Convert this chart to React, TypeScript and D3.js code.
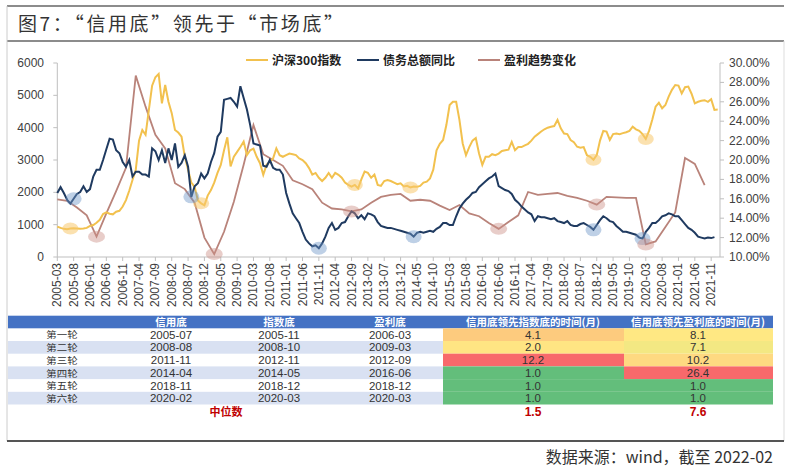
import React from "react";
import * as d3 from "d3";

// 月度序列，起点 2005-03
const startYear = 2005;
const startMon = 3;

// 沪深300指数（左轴），月度
const csi300 = [
  940, 900, 870, 860, 880, 890, 880, 870, 880, 900,
  960, 990, 1060, 1150, 1330, 1380, 1340, 1320, 1400, 1430,
  1560, 1760, 2050, 2380, 2700, 3600, 3930, 3780, 4540, 5300,
  5560, 5660, 4750, 5320, 4800, 4450, 3930, 3850, 3720, 3100,
  2700, 2300, 2170, 1750, 1660, 1600, 1900, 2070, 2300, 2600,
  2850, 3300, 3700, 2800, 3100, 3250, 3400, 3570, 3150, 3300,
  3350, 3100, 2900, 2540, 2850, 2950, 3050, 3360, 3150, 3100,
  3150, 3200, 3180, 3150, 3050, 3000, 2900, 2750, 2550, 2600,
  2450, 2350, 2450, 2600, 2450, 2600, 2540, 2450, 2300, 2230,
  2175, 2230, 2120, 2400, 2640, 2600, 2450, 2550, 2230, 2200,
  2350, 2380, 2350, 2300, 2250, 2280, 2180, 2200, 2150, 2180,
  2170, 2200, 2300, 2330, 2430, 2700, 3300, 3500, 3620, 4080,
  4700, 4800, 4800, 4240, 3510, 3150, 3400, 3600, 3680, 3200,
  2850, 3100, 3100, 3180, 3150, 3200, 3280, 3300, 3320, 3560,
  3300, 3400, 3400, 3450, 3500, 3600, 3720, 3800, 3880, 3950,
  4000, 4030, 4050, 4240, 3980, 3820, 3800, 3620, 3550, 3410,
  3380, 3400, 3150, 3100, 3010, 3150, 3600, 3900, 3880, 3620,
  3800, 3820, 3800, 3830, 3860, 3900, 4030, 3950, 3900, 3800,
  3650, 3900, 4250, 4650, 4770, 4600, 4700, 4960, 5170, 5320,
  5300, 5060, 5250, 5270, 5050, 4750, 4800, 4830, 4850, 4800,
  4880, 4550, 4560,
];

// 债务总额同比（右轴，%），月度
const debtYoY = [
  16.6, 17.2, 16.6, 15.9, 15.5, 16.0, 16.5, 16.7, 17.3, 16.7,
  17.0, 18.3, 19.0, 19.0, 20.0, 21.1, 22.2, 22.1, 21.0, 20.7,
  19.8, 19.3, 20.0, 18.3, 18.8, 18.8, 18.5, 18.5, 18.3, 21.2,
  20.9, 20.0, 21.0, 19.7, 21.2, 20.0, 21.7, 19.3, 19.7, 20.5,
  19.3, 16.2, 17.3, 17.6, 18.6, 18.1, 18.6, 19.8, 20.7, 22.4,
  22.9, 26.2, 26.3, 26.4, 26.0, 25.5, 27.6, 26.4, 25.2, 23.6,
  21.7, 21.6, 21.5, 19.4, 19.3, 20.0, 19.2, 19.0, 19.0, 18.5,
  16.6, 15.5, 14.5, 14.0, 13.5, 12.6, 11.8, 11.4, 11.1, 11.2,
  10.9, 11.4, 12.1, 13.0, 13.5, 12.8, 13.0, 13.5, 13.6, 14.2,
  14.7, 14.5, 14.0, 14.3, 13.9, 14.5, 14.4, 14.2, 13.6, 13.2,
  13.1, 13.0, 13.0, 12.9, 12.8, 12.7, 12.6, 12.5, 12.4, 12.1,
  12.5, 12.6, 12.5, 12.6, 12.7, 12.6, 12.9, 13.1, 13.5, 13.5,
  13.3, 13.3, 14.2, 15.0, 15.5, 15.9, 16.2, 16.6, 16.7, 17.2,
  17.5, 17.8, 18.1, 18.3, 18.6, 17.3, 17.1, 16.9, 16.8, 16.5,
  15.9, 15.6, 15.2, 14.9, 14.6, 14.4, 13.7, 14.2, 14.1, 14.1,
  14.0, 13.9, 14.0, 13.7, 13.6, 13.5, 13.7, 13.3, 13.2, 13.2,
  13.4, 13.5, 13.3, 13.1, 12.8, 13.3, 13.8, 14.2, 14.0, 13.7,
  13.6, 13.2, 12.9, 12.6, 12.6, 12.5, 12.4, 12.3, 12.0, 11.9,
  12.6, 13.0, 13.5, 13.5, 13.8, 14.2, 14.3, 14.5, 14.4, 14.2,
  14.2, 13.8, 13.4, 13.0, 12.8, 12.5, 12.1, 12.0, 11.9, 12.0,
  11.95, 12.05,
];

// 盈利趋势变化（右轴，%），季度（每 3 个月一个点）
const profitTrend = [
  15.95, 15.8, 15.1, 14.3, 12.1, 14.5, 16.8, 19.2, 28.7, 25.5,
  22.6, 21.2, 17.6, 17.0, 15.6, 12.0, 10.3, 12.6, 15.7, 19.5,
  23.6, 20.6, 20.0, 19.4, 17.9, 17.5, 17.0, 15.6, 15.0, 14.9,
  14.7, 14.9, 15.6, 16.2, 16.4, 16.5, 15.8, 15.9, 15.8, 15.3,
  14.85, 15.36, 14.5, 14.2, 13.5, 12.9, 13.6, 14.3, 16.7, 16.4,
  16.5, 16.6, 16.3, 16.1, 15.8, 15.4, 16.2, 16.15, 16.1, 16.1,
  11.3, 11.6, 13.1, 14.6, 20.2, 19.6, 17.4,
];

// 底部标注（月序号）
const csiMarks = [4, 44, 91, 108, 164, 180];
const debtMarks = [5, 41, 80, 109, 164, 179];
const profitMarks = [12, 48, 90, 135, 165, 180];

const leftTicks = [0, 1000, 2000, 3000, 4000, 5000, 6000];
const rightTicks = [10, 12, 14, 16, 18, 20, 22, 24, 26, 28, 30];
const xTickLabels = [
  "2005-03", "2005-08", "2006-01", "2006-06", "2006-11", "2007-04", "2007-09",
  "2008-02", "2008-07", "2008-12", "2009-05", "2009-10", "2010-03", "2010-08",
  "2011-01", "2011-06", "2011-11", "2012-04", "2012-09", "2013-02", "2013-07",
  "2013-12", "2014-05", "2014-10", "2015-03", "2015-08", "2016-01", "2016-06",
  "2016-11", "2017-04", "2017-09", "2018-02", "2018-07", "2018-12", "2019-05",
  "2019-10", "2020-03", "2020-08", "2021-01", "2021-06", "2021-11",
];

const legendNames = ["沪深300指数", "债务总额同比", "盈利趋势变化"];

// 表格
const tableHeader = ["", "信用底", "指数底", "盈利底", "信用底领先指数底的时间(月)", "信用底领先盈利底的时间(月)"];
const rounds = ["第一轮", "第二轮", "第三轮", "第四轮", "第五轮", "第六轮"];
const creditBottom = ["2005-07", "2008-08", "2011-11", "2014-04", "2018-11", "2020-02"];
const indexBottom = ["2005-11", "2008-10", "2012-11", "2014-05", "2018-12", "2020-03"];
const profitBottom = ["2006-03", "2009-03", "2012-09", "2016-06", "2018-12", "2020-03"];
const leadIndex = [4.1, 2.0, 12.2, 1.0, 1.0, 1.0];
const leadProfit = [8.1, 7.1, 10.2, 26.4, 1.0, 1.0];

const YELLOW = "#F2C14E";
const NAVY = "#1F3A60";
const BROWN = "#B9837A";
const FONT = "'Liberation Sans', Arial, sans-serif";
const CJK = "'Noto Sans CJK SC', sans-serif";

const monthIndex = (s: string) => {
  const [y, m] = s.split("-").map(Number);
  return (y - startYear) * 12 + (m - startMon);
};

const App: React.FC = () => {
  const width = 800;
  const height = 472;
  const plot = { left: 57.3, right: 720, top: 63, bottom: 257 };

  const x = d3.scaleLinear().domain([0, 202.7]).range([plot.left, plot.right]);
  const yLeft = d3.scaleLinear().domain([0, 6000]).range([plot.bottom, plot.top]);
  const yRight = d3.scaleLinear().domain([10, 30]).range([plot.bottom, plot.top]);

  const csiLine = d3.line<number>().x((_, i) => x(i)).y(d => yLeft(d));
  const debtLine = d3.line<number>().x((_, i) => x(i)).y(d => yRight(d));
  const profitLine = d3.line<number>().x((_, i) => x(i * 3)).y(d => yRight(d));

  // 表格布局
  const tLeft = 8;
  const tRight = 773;
  const headTop = 315.7;
  const headH = 12.6;
  const rowH = 12.7;
  const colX = [62, 171, 279, 390, 533, 698];
  const leadCells = [
    [443, 624],
    [624, 773],
  ];
  const heat = (vals: number[]) => {
    const med = d3.median(vals) ?? 0;
    return d3
      .scaleLinear<string>()
      .domain([d3.min(vals) ?? 0, med, d3.max(vals) ?? 1])
      .range(["#63BE7B", "#FFEB84", "#F8696B"]);
  };
  const heatIndex = heat(leadIndex);
  const heatProfit = heat(leadProfit);
  const medians = [d3.median(leadIndex) ?? 0, d3.median(leadProfit) ?? 0];

  const legendX = [246, 357, 478];

  return (
    <svg width={width} height={height} style={{ position: "absolute", left: 0, top: 0, background: "#fff" }}>
      {/* 外框 */}
      <line x1={7} x2={784} y1={6} y2={6} stroke="#666" strokeWidth={1.5} />
      <line x1={7} x2={784} y1={41} y2={41} stroke="#666" strokeWidth={1.5} />
      <line x1={7} x2={7} y1={6} y2={441} stroke="#ccc" strokeWidth={1} />
      <line x1={784} x2={784} y1={41} y2={441} stroke="#ddd" strokeWidth={1} />
      <line x1={7} x2={784} y1={441} y2={441} stroke="#555" strokeWidth={2} />
      <text x={18} y={31} fontFamily={CJK} fontSize={19} fill="#333" textLength={325} lengthAdjust="spacing">
        图7：“信用底”领先于“市场底”
      </text>

      {/* 坐标轴 */}
      <g stroke="#BFBFBF" strokeWidth={1}>
        <line x1={plot.left} x2={plot.left} y1={plot.top} y2={plot.bottom} />
        <line x1={plot.right} x2={plot.right} y1={plot.top} y2={plot.bottom} />
        <line x1={plot.left} x2={plot.right} y1={plot.bottom} y2={plot.bottom} />
        {leftTicks.map(t => (
          <line key={"lt" + t} x1={plot.left - 4} x2={plot.left} y1={yLeft(t)} y2={yLeft(t)} />
        ))}
        {rightTicks.map(t => (
          <line key={"rt" + t} x1={plot.right} x2={plot.right + 4} y1={yRight(t)} y2={yRight(t)} />
        ))}
        {xTickLabels.map(l => (
          <line key={"xt" + l} x1={x(monthIndex(l))} x2={x(monthIndex(l))} y1={plot.bottom} y2={plot.bottom + 4} />
        ))}
      </g>
      <g fontFamily={FONT} fontSize={12} fill="#404040">
        {leftTicks.map(t => (
          <text key={"ll" + t} x={44} y={yLeft(t) + 4} textAnchor="end">{t}</text>
        ))}
        {rightTicks.map(t => (
          <text key={"rl" + t} x={729} y={yRight(t) + 4}>{`${t.toFixed(2)}%`}</text>
        ))}
        {xTickLabels.map(l => (
          <text
            key={"xl" + l}
            transform={`translate(${x(monthIndex(l)) + 4},${plot.bottom + 6}) rotate(-90)`}
            textAnchor="end"
          >
            {l}
          </text>
        ))}
      </g>

      {/* 折线 */}
      <path d={profitLine(profitTrend) ?? ""} fill="none" stroke={BROWN} strokeWidth={1.8} />
      <path d={csiLine(csi300) ?? ""} fill="none" stroke={YELLOW} strokeWidth={2} />
      <path d={debtLine(debtYoY) ?? ""} fill="none" stroke={NAVY} strokeWidth={2} />

      {/* 底部标注 */}
      {csiMarks.map(m => (
        <ellipse key={"cm" + m} cx={x(m)} cy={yLeft(csi300[m])} rx={8} ry={6} fill="rgba(247,200,110,0.55)" />
      ))}
      {debtMarks.map(m => (
        <ellipse key={"dm" + m} cx={x(m)} cy={yRight(debtYoY[m])} rx={8} ry={6.5} fill="rgba(110,150,200,0.45)" />
      ))}
      {profitMarks.map(m => (
        <ellipse key={"pm" + m} cx={x(m)} cy={yRight(profitTrend[m / 3])} rx={8.5} ry={6} fill="rgba(205,145,135,0.45)" />
      ))}

      {/* 图例 */}
      <g fontFamily={CJK} fontSize={12} fontWeight="bold" fill="#222">
        {legendNames.map((n, i) => (
          <g key={n}>
            <line
              x1={legendX[i]}
              x2={legendX[i] + 22}
              y1={60}
              y2={60}
              stroke={[YELLOW, NAVY, BROWN][i]}
              strokeWidth={2}
            />
            <text x={legendX[i] + 26} y={65}>{n}</text>
          </g>
        ))}
      </g>

      {/* 表格 */}
      <rect x={tLeft} y={headTop} width={tRight - tLeft} height={headH} fill="#4472C4" />
      <g fontFamily={CJK} fontSize={10.5} fontWeight="bold" fill="#fff" textAnchor="middle">
        {tableHeader.map((h, i) => (
          <text key={"h" + i} x={colX[i]} y={headTop + headH - 2.5}>{h}</text>
        ))}
      </g>
      {rounds.map((r, i) => {
        const top = headTop + headH + i * rowH;
        const cells = [creditBottom[i], indexBottom[i], profitBottom[i], leadIndex[i].toFixed(1), leadProfit[i].toFixed(1)];
        return (
          <g key={r}>
            {i % 2 === 1 && (
              <rect x={tLeft} y={top} width={leadCells[0][0] - tLeft} height={rowH} fill="#D9E1F2" />
            )}
            <rect x={leadCells[0][0]} y={top} width={leadCells[0][1] - leadCells[0][0]} height={rowH} fill={heatIndex(leadIndex[i])} />
            <rect x={leadCells[1][0]} y={top} width={leadCells[1][1] - leadCells[1][0]} height={rowH} fill={heatProfit(leadProfit[i])} />
            <text
              transform={`translate(${colX[0]},${top + rowH - 2.6}) scale(1.2,1)`}
              fontFamily={CJK}
              fontSize={8.7}
              fill="#333"
              textAnchor="middle"
            >
              {r}
            </text>
            <g fontFamily={FONT} fontSize={11.5} fill="#333" textAnchor="middle">
              {cells.map((c, j) => (
                <text key={j} x={colX[j + 1]} y={top + rowH - 2.3}>{c}</text>
              ))}
            </g>
          </g>
        );
      })}
      <text x={226} y={416} fontFamily={CJK} fontSize={11} fontWeight="bold" fill="#C00000" textAnchor="middle">中位数</text>
      <g fontFamily={FONT} fontSize={12} fontWeight="bold" fill="#C00000" textAnchor="middle">
        <text x={colX[4]} y={416}>{medians[0].toFixed(1)}</text>
        <text x={colX[5]} y={416}>{medians[1].toFixed(1)}</text>
      </g>

      <text x={773} y={463} fontFamily={CJK} fontSize={16} fill="#333" textAnchor="end">
        数据来源：wind，截至 2022-02
      </text>
    </svg>
  );
};

export default App;
